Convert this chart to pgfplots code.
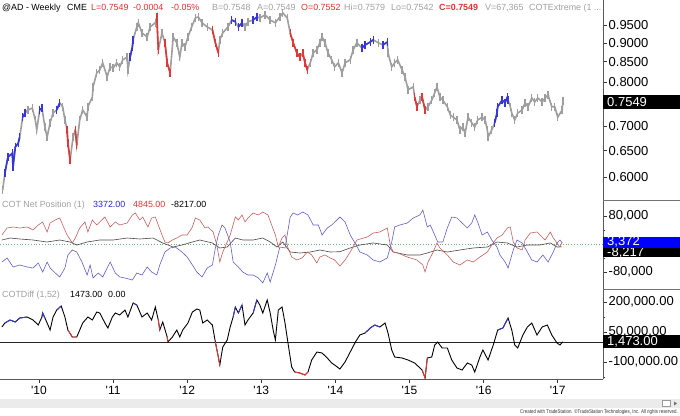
\documentclass[border=0pt]{standalone}
\usepackage{fontspec}
\setmainfont{Liberation Sans}
\usepackage{pgfplots}
\usepackage{pgfplotstable}
\pgfplotsset{compat=1.18}

\definecolor{bargray}{RGB}{158,158,158}
\definecolor{barblue}{RGB}{55,55,215}
\definecolor{barred}{RGB}{225,55,55}
\definecolor{cotblue}{RGB}{95,95,200}
\definecolor{cotred}{RGB}{200,95,95}
\definecolor{cotblack}{RGB}{70,70,70}
\definecolor{ttlgray}{RGB}{160,160,160}
\definecolor{ttlred}{RGB}{225,50,50}
\definecolor{ttlblue}{RGB}{40,40,215}
\definecolor{zgreen}{RGB}{110,180,110}

% weekly price (year, close-ish)
\pgfplotstableread{
x y
2009.51 0.577
2009.54 0.607
2009.58 0.637
2009.64 0.645
2009.65 0.618
2009.68 0.657
2009.72 0.665
2009.74 0.677
2009.78 0.719
2009.81 0.728
2009.85 0.735
2009.91 0.739
2009.95 0.713
2009.97 0.692
2010.01 0.735
2010.04 0.739
2010.08 0.698
2010.11 0.677
2010.15 0.707
2010.19 0.728
2010.24 0.735
2010.28 0.751
2010.32 0.742
2010.35 0.713
2010.38 0.692
2010.39 0.665
2010.42 0.632
2010.46 0.677
2010.49 0.692
2010.51 0.661
2010.55 0.713
2010.59 0.735
2010.65 0.719
2010.66 0.742
2010.72 0.764
2010.73 0.788
2010.78 0.822
2010.82 0.829
2010.86 0.847
2010.92 0.812
2010.96 0.837
2011.00 0.834
2011.05 0.847
2011.09 0.837
2011.13 0.855
2011.19 0.862
2011.20 0.829
2011.23 0.862
2011.26 0.889
2011.27 0.908
2011.32 0.944
2011.34 0.956
2011.39 0.927
2011.46 0.916
2011.50 0.944
2011.57 0.956
2011.59 0.973
2011.61 0.881
2011.66 0.927
2011.70 0.900
2011.73 0.847
2011.77 0.822
2011.80 0.889
2011.81 0.916
2011.86 0.900
2011.90 0.862
2011.93 0.900
2011.97 0.889
2012.01 0.916
2012.06 0.944
2012.11 0.970
2012.15 0.973
2012.20 0.956
2012.27 0.944
2012.34 0.936
2012.38 0.900
2012.42 0.873
2012.44 0.908
2012.48 0.927
2012.55 0.944
2012.60 0.964
2012.65 0.959
2012.69 0.944
2012.74 0.956
2012.78 0.944
2012.82 0.959
2012.89 0.964
2012.94 0.973
2012.98 0.970
2013.05 0.979
2013.12 0.964
2013.19 0.956
2013.25 0.973
2013.29 0.985
2013.35 0.970
2013.39 0.927
2013.43 0.900
2013.48 0.873
2013.52 0.862
2013.56 0.873
2013.59 0.847
2013.62 0.829
2013.66 0.847
2013.70 0.873
2013.75 0.881
2013.79 0.900
2013.82 0.916
2013.86 0.900
2013.90 0.873
2013.95 0.855
2013.99 0.837
2014.04 0.847
2014.09 0.822
2014.13 0.847
2014.20 0.855
2014.24 0.881
2014.29 0.900
2014.36 0.886
2014.40 0.894
2014.47 0.902
2014.51 0.908
2014.58 0.900
2014.64 0.894
2014.70 0.902
2014.71 0.873
2014.76 0.837
2014.80 0.847
2014.84 0.855
2014.90 0.829
2014.94 0.812
2014.98 0.781
2015.05 0.788
2015.07 0.764
2015.10 0.742
2015.14 0.757
2015.17 0.764
2015.21 0.735
2015.25 0.742
2015.30 0.757
2015.34 0.774
2015.37 0.788
2015.41 0.764
2015.45 0.757
2015.51 0.742
2015.55 0.724
2015.59 0.719
2015.64 0.713
2015.68 0.692
2015.72 0.698
2015.75 0.685
2015.79 0.719
2015.84 0.707
2015.88 0.698
2015.92 0.713
2015.98 0.719
2016.02 0.713
2016.05 0.692
2016.06 0.677
2016.11 0.692
2016.15 0.707
2016.18 0.728
2016.19 0.742
2016.25 0.757
2016.29 0.751
2016.32 0.764
2016.33 0.757
2016.36 0.742
2016.38 0.728
2016.42 0.713
2016.46 0.728
2016.52 0.735
2016.56 0.751
2016.60 0.742
2016.65 0.762
2016.69 0.753
2016.73 0.762
2016.79 0.753
2016.83 0.762
2016.87 0.769
2016.92 0.742
2016.96 0.742
2017.00 0.719
2017.06 0.735
2017.07 0.7549
}\price

% COT net positions, thousands of contracts
\pgfplotstableread{
x y
2009.50 25.7
2009.57 45.7
2009.65 48.6
2009.74 45.7
2009.84 48.6
2009.92 40.0
2009.99 54.3
2010.05 62.9
2010.11 34.3
2010.15 60.0
2010.22 68.6
2010.28 74.3
2010.32 54.3
2010.38 25.7
2010.45 2.9
2010.49 17.1
2010.55 45.7
2010.62 62.9
2010.66 34.3
2010.72 68.6
2010.78 54.3
2010.82 62.9
2010.89 77.1
2010.96 48.6
2011.03 62.9
2011.09 54.3
2011.19 60.0
2011.26 82.9
2011.30 88.6
2011.36 68.6
2011.40 77.1
2011.47 48.6
2011.52 74.3
2011.57 77.1
2011.61 54.3
2011.66 25.7
2011.70 5.7
2011.74 2.9
2011.80 11.4
2011.86 17.1
2011.93 25.7
2012.00 25.7
2012.07 48.6
2012.11 74.3
2012.17 68.6
2012.24 45.7
2012.28 48.6
2012.35 34.3
2012.40 -2.9
2012.44 -51.4
2012.48 -22.9
2012.54 5.7
2012.58 25.7
2012.65 77.1
2012.69 68.6
2012.74 82.9
2012.78 62.9
2012.82 74.3
2012.89 88.6
2012.96 82.9
2013.02 91.4
2013.09 82.9
2013.14 54.3
2013.19 25.7
2013.23 -8.6
2013.28 17.1
2013.32 25.7
2013.36 -11.4
2013.41 -37.1
2013.48 -45.7
2013.55 -40.0
2013.62 -22.9
2013.68 -31.4
2013.75 -54.3
2013.79 -37.1
2013.86 -31.4
2013.93 -40.0
2013.99 -45.7
2014.06 -62.9
2014.13 -45.7
2014.20 -22.9
2014.29 11.4
2014.43 20.0
2014.51 31.4
2014.60 34.3
2014.70 45.7
2014.74 -2.9
2014.78 -22.9
2014.84 -25.7
2014.97 -37.1
2015.10 -45.7
2015.18 -60.0
2015.21 -80.0
2015.25 -51.4
2015.32 -22.9
2015.37 2.9
2015.41 -11.4
2015.51 -31.4
2015.59 -51.4
2015.68 -60.0
2015.78 -45.7
2015.86 -51.4
2015.95 -37.1
2016.05 -22.9
2016.11 -2.9
2016.18 17.1
2016.25 25.7
2016.32 45.7
2016.36 48.6
2016.40 5.7
2016.45 -11.4
2016.52 -17.1
2016.56 11.4
2016.63 31.4
2016.72 34.3
2016.76 25.7
2016.83 11.4
2016.90 34.3
2016.94 17.1
2016.99 2.9
2017.03 -8.6
2017.06 4.8
}\cotred

\pgfplotstableread{
x y
2009.50 -51.4
2009.57 -40.0
2009.65 -65.7
2009.74 -60.0
2009.84 -65.7
2009.92 -68.6
2009.99 -54.3
2010.05 -80.0
2010.11 -51.4
2010.15 -68.6
2010.22 -82.9
2010.28 -94.3
2010.35 -68.6
2010.39 -31.4
2010.45 -17.1
2010.51 -22.9
2010.58 -51.4
2010.65 -88.6
2010.69 -60.0
2010.73 -97.1
2010.80 -82.9
2010.86 -94.3
2010.92 -68.6
2010.96 -51.4
2011.03 -82.9
2011.09 -94.3
2011.16 -97.1
2011.26 -102.9
2011.32 -82.9
2011.39 -88.6
2011.46 -65.7
2011.52 -80.0
2011.59 -88.6
2011.63 -60.0
2011.70 -22.9
2011.77 -11.4
2011.84 -8.6
2011.93 -22.9
2012.00 -37.1
2012.07 -60.0
2012.13 -80.0
2012.20 -94.3
2012.27 -68.6
2012.34 -60.0
2012.38 -11.4
2012.42 25.7
2012.47 54.3
2012.51 45.7
2012.58 5.7
2012.62 -51.4
2012.69 -65.7
2012.75 -80.0
2012.82 -88.6
2012.89 -88.6
2012.96 -97.1
2013.02 -111.4
2013.08 -82.9
2013.12 -108.6
2013.19 -60.0
2013.25 -8.6
2013.32 -11.4
2013.39 77.1
2013.43 88.6
2013.49 82.9
2013.56 91.4
2013.63 82.9
2013.70 54.3
2013.77 54.3
2013.82 25.7
2013.89 45.7
2013.95 54.3
2014.02 68.6
2014.06 77.1
2014.13 62.9
2014.20 25.7
2014.28 -2.9
2014.33 -22.9
2014.43 -31.4
2014.51 -45.7
2014.60 -51.4
2014.70 -40.0
2014.76 5.7
2014.80 48.6
2014.87 54.3
2014.97 60.0
2015.05 74.3
2015.14 82.9
2015.18 97.1
2015.24 48.6
2015.28 54.3
2015.34 25.7
2015.38 5.7
2015.45 5.7
2015.51 45.7
2015.57 77.1
2015.64 74.3
2015.71 60.0
2015.78 45.7
2015.84 60.0
2015.88 82.9
2015.92 62.9
2015.98 25.7
2016.05 34.3
2016.11 11.4
2016.18 -8.6
2016.22 -31.4
2016.29 -51.4
2016.33 -68.6
2016.40 -17.1
2016.45 11.4
2016.52 2.9
2016.59 -22.9
2016.65 -45.7
2016.72 -51.4
2016.80 -31.4
2016.87 -51.4
2016.94 -22.9
2016.99 2.9
2017.03 11.4
2017.06 3.4
}\cotblue

\pgfplotstableread{
x y
2009.50 11.4
2009.61 17.1
2009.74 14.3
2009.92 11.4
2010.11 5.7
2010.28 11.4
2010.42 5.7
2010.51 -2.9
2010.65 5.7
2010.82 11.4
2011.00 11.4
2011.19 17.1
2011.36 14.3
2011.54 17.1
2011.67 2.9
2011.81 -8.6
2011.93 -2.9
2012.07 5.7
2012.17 11.4
2012.34 2.9
2012.44 -11.4
2012.54 -8.6
2012.65 17.1
2012.75 11.4
2012.89 11.4
2013.02 17.1
2013.12 5.7
2013.21 -8.6
2013.29 5.7
2013.39 -22.9
2013.52 -25.7
2013.66 -22.9
2013.79 -17.1
2013.93 -22.9
2014.06 -22.0
2014.20 -11.4
2014.33 -2.9
2014.51 2.9
2014.70 -2.9
2014.78 -22.9
2014.97 -31.4
2015.14 -31.4
2015.24 -25.7
2015.37 -17.1
2015.51 -22.9
2015.68 -17.1
2015.86 -11.4
2016.05 -8.6
2016.18 5.7
2016.32 2.9
2016.45 -8.6
2016.59 -2.9
2016.76 -2.9
2016.90 2.9
2016.99 -8.6
2017.06 -8.2
}\cotblack

% COTDiff (1,52), thousands
\pgfplotstableread{
x y
2009.50 75
2009.54 95
2009.61 110
2009.68 100
2009.74 120
2009.84 125
2009.92 110
2009.99 85
2010.04 125
2010.05 145
2010.11 95
2010.15 60
2010.19 125
2010.24 160
2010.30 180
2010.35 125
2010.39 60
2010.45 25
2010.51 25
2010.55 60
2010.59 95
2010.66 125
2010.72 110
2010.78 150
2010.82 145
2010.89 95
2010.93 70
2010.99 125
2011.03 145
2011.09 135
2011.16 160
2011.20 125
2011.27 195
2011.32 185
2011.39 125
2011.46 145
2011.52 110
2011.57 175
2011.61 110
2011.63 60
2011.67 100
2011.73 25
2011.74 0
2011.80 25
2011.86 60
2011.90 25
2011.94 60
2012.01 95
2012.07 150
2012.13 165
2012.17 160
2012.21 95
2012.27 110
2012.34 85
2012.38 0
2012.42 -75
2012.44 -115
2012.48 -25
2012.54 10
2012.58 75
2012.62 125
2012.65 175
2012.69 145
2012.74 185
2012.78 85
2012.82 110
2012.89 145
2012.94 210
2012.98 185
2013.02 145
2013.08 210
2013.12 145
2013.16 60
2013.19 10
2013.23 160
2013.28 175
2013.32 95
2013.36 -5
2013.41 -125
2013.45 -150
2013.52 -155
2013.59 -165
2013.63 -150
2013.68 -90
2013.75 -50
2013.82 -55
2013.89 -80
2013.95 -105
2013.99 -115
2014.06 -135
2014.13 -100
2014.20 -50
2014.27 0
2014.33 35
2014.40 45
2014.47 70
2014.53 85
2014.60 75
2014.67 95
2014.71 45
2014.76 -40
2014.80 -75
2014.90 -80
2014.98 -90
2015.07 -105
2015.17 -140
2015.21 -180
2015.24 -80
2015.30 -75
2015.34 -15
2015.38 0
2015.44 -30
2015.51 -30
2015.57 -90
2015.64 -130
2015.71 -140
2015.78 -105
2015.84 -115
2015.88 -150
2015.95 -75
2015.99 -40
2016.06 -90
2016.13 -15
2016.19 60
2016.26 70
2016.33 120
2016.38 60
2016.42 -15
2016.46 -30
2016.53 35
2016.59 75
2016.65 95
2016.72 35
2016.79 75
2016.86 85
2016.92 35
2016.99 -5
2017.03 -15
2017.07 1.473
}\cotdiff

\pgfplotsset{
  panel/.style={
    scale only axis, width=603pt,
    xmin=2009.474, xmax=2017.611,
    axis y line*=right, tick align=outside,
    yticklabel style={font=\fontsize{13}{13}\selectfont, inner xsep=1.5pt},
    major tick length=4pt, minor tick length=2.5pt,
    every tick/.style={black!80, line width=0.5pt},
    axis line style={black!65, line width=0.6pt},
  },
  bars/.style={#1, line width=1.6pt, mark=|, mark size=4pt,
    mark options={line width=1.4pt}},
}

\newcommand\tfont{\fontsize{8.9}{10}\selectfont}

\begin{document}
\begin{tikzpicture}
\useasboundingbox (0pt,0pt) rectangle (680pt,-415pt);

% price panel
\begin{axis}[panel, at={(0pt,-200pt)}, anchor=south west, height=200pt,
  axis x line=none, ymode=log, ymin=0.560, ymax=1.024,
  ytick={0.6,0.65,0.7,0.75,0.8,0.85,0.9,0.95},
  yticklabels={0.6000,0.6500,0.7000,0.7500,0.8000,0.8500,0.9000,0.9500}]
\addplot[bars=bargray] table {\price};
\addplot[bars=barblue] coordinates {(2009.54,0.607) (2009.58,0.637) (2009.64,0.645) (2009.65,0.618) (2009.68,0.657) (2009.72,0.665) (2009.74,0.677)};
\addplot[bars=barblue] coordinates {(2009.78,0.719) (2009.81,0.728)};
\addplot[bars=barblue] coordinates {(2010.01,0.735) (2010.04,0.739)};
\addplot[bars=barblue] coordinates {(2010.24,0.735) (2010.28,0.751)};
\addplot[bars=barred] coordinates {(2010.38,0.692) (2010.39,0.665) (2010.42,0.632)};
\addplot[bars=barred] coordinates {(2010.49,0.692) (2010.51,0.661)};
\addplot[bars=barblue] coordinates {(2011.23,0.862) (2011.26,0.889) (2011.27,0.908)};
\addplot[bars=barred] coordinates {(2011.59,0.973) (2011.61,0.881)};
\addplot[bars=barred] coordinates {(2011.70,0.900) (2011.73,0.847) (2011.77,0.822)};
\addplot[bars=barred] coordinates {(2012.34,0.936) (2012.38,0.900) (2012.42,0.873)};
\addplot[bars=barblue] coordinates {(2012.60,0.964) (2012.65,0.959)};
\addplot[bars=barblue] coordinates {(2012.69,0.944) (2012.74,0.956)};
\addplot[bars=barblue] coordinates {(2012.89,0.964) (2012.94,0.973)};
\addplot[bars=barred] coordinates {(2013.39,0.927) (2013.43,0.900) (2013.48,0.873) (2013.52,0.862)};
\addplot[bars=barred] coordinates {(2013.56,0.873) (2013.59,0.847) (2013.62,0.829)};
\addplot[bars=barblue] coordinates {(2014.36,0.886) (2014.40,0.894) (2014.47,0.902) (2014.51,0.908)};
\addplot[bars=barblue] coordinates {(2014.64,0.894) (2014.70,0.902)};
\addplot[bars=barred] coordinates {(2015.07,0.764) (2015.10,0.742)};
\addplot[bars=barred] coordinates {(2015.17,0.764) (2015.21,0.735)};
\addplot[bars=barblue] coordinates {(2016.15,0.707) (2016.18,0.728) (2016.19,0.742) (2016.25,0.757) (2016.29,0.751) (2016.32,0.764) (2016.33,0.757)};
\end{axis}

% COT net position panel
\begin{axis}[panel, at={(0pt,-289pt)}, anchor=south west, height=89pt,
  axis x line=none, ymin=-128.6, ymax=125.7,
  ytick={-80,80}, yticklabels={{-80,000},{80,000}},
  minor ytick={-40,0,40}]
\addplot[zgreen, dotted, line width=0.8pt] coordinates {(2009.474,0) (2017.611,0)};
\addplot[cotblack, line width=0.6pt] table {\cotblack};
\addplot[cotred, line width=0.6pt] table {\cotred};
\addplot[cotblue, line width=0.6pt] table {\cotblue};
\end{axis}

% COTDiff panel
\begin{axis}[panel, at={(0pt,-379pt)}, anchor=south west, height=90pt,
  axis x line*=bottom, ymin=-185, ymax=265,
  ytick={-100,50,200}, yticklabels={{-100,000.00},{50,000.00},{200,000.00}},
  minor ytick={-175,-25,125},
  xtick={2010,2011,2012,2013,2014,2015,2016,2017},
  xticklabels={\textquotesingle10,\textquotesingle11,\textquotesingle12,\textquotesingle13,\textquotesingle14,\textquotesingle15,\textquotesingle16,\textquotesingle17},
  xticklabel style={font=\fontsize{12}{12}\selectfont}]
\addplot[black!85, line width=0.8pt] coordinates {(2009.474,0) (2017.611,0)};
\addplot[black, line width=0.9pt] table {\cotdiff};
\addplot[barblue, line width=0.9pt] coordinates {(2009.54,95) (2009.61,110) (2009.68,100) (2009.74,120) (2009.84,125)};
\addplot[barblue, line width=0.9pt] coordinates {(2010.04,125) (2010.05,145) (2010.08,120)};
\addplot[barblue, line width=0.9pt] coordinates {(2010.24,160) (2010.30,180)};
\addplot[barblue, line width=0.9pt] coordinates {(2011.27,195) (2011.32,185)};
\addplot[barblue, line width=0.9pt] coordinates {(2012.62,125) (2012.65,175)};
\addplot[barblue, line width=0.9pt] coordinates {(2012.69,145) (2012.74,185)};
\addplot[barblue, line width=0.9pt] coordinates {(2012.89,145) (2012.94,210)};
\addplot[barblue, line width=0.9pt] coordinates {(2014.40,45) (2014.47,70) (2014.53,85) (2014.60,75)};
\addplot[barblue, line width=0.9pt] coordinates {(2016.19,60) (2016.26,70) (2016.33,120)};
\addplot[barred, line width=0.9pt] coordinates {(2010.39,60) (2010.45,25) (2010.51,25)};
\addplot[barred, line width=0.9pt] coordinates {(2011.61,110) (2011.63,60)};
\addplot[barred, line width=0.9pt] coordinates {(2011.73,25) (2011.74,0)};
\addplot[barred, line width=0.9pt] coordinates {(2012.38,0) (2012.42,-75) (2012.44,-115)};
\addplot[barred, line width=0.9pt] coordinates {(2013.45,-150) (2013.52,-155) (2013.59,-165) (2013.63,-150)};
\addplot[barred, line width=0.9pt] coordinates {(2015.17,-140) (2015.21,-180) (2015.24,-80)};
\end{axis}

% separators in the scale area
\draw[black!55, line width=0.6pt] (603pt,-200pt) -- (680pt,-200pt);
\draw[black!55, line width=0.6pt] (603pt,-289pt) -- (680pt,-289pt);

% last value boxes
\fill[black] (603pt,-95pt) rectangle (680pt,-109pt);
\node[anchor=west, text=white, inner sep=0pt, font=\fontsize{13}{13}\selectfont] at (607pt,-102pt) {0.7549};
\fill[black] (603pt,-246pt) rectangle (680pt,-257pt);
\node[anchor=west, text=white, inner sep=0pt, font=\fontsize{13}{13}\selectfont] at (607pt,-253pt) {-8,217};
\fill[blue] (603pt,-236.5pt) rectangle (680pt,-248pt);
\node[anchor=west, text=white, inner sep=0pt, font=\fontsize{13}{13}\selectfont] at (607pt,-242pt) {3,372};
\fill[black] (603pt,-335pt) rectangle (680pt,-348pt);
\node[anchor=west, text=white, inner sep=0pt, font=\fontsize{13}{13}\selectfont] at (607pt,-341.5pt) {1,473.00};

% header of the price panel
\begin{scope}[every node/.style={anchor=base west, inner sep=0pt, font=\tfont}]
\node[text=black] at (2pt,-10.5pt) {@AD - Weekly};
\node[text=black] at (67pt,-10.5pt) {CME};
\node[text=ttlred] at (91pt,-10.5pt) {L=0.7549};
\node[text=ttlred] at (133pt,-10.5pt) {-0.0004};
\node[text=ttlred] at (171pt,-10.5pt) {-0.05\%};
\node[text=ttlgray] at (212pt,-10.5pt) {B=0.7548};
\node[text=ttlgray] at (257pt,-10.5pt) {A=0.7549};
\node[text=ttlred] at (301pt,-10.5pt) {O=0.7552};
\node[text=ttlgray] at (344pt,-10.5pt) {Hi=0.7579};
\node[text=ttlgray] at (391pt,-10.5pt) {Lo=0.7542};
\node[text=ttlred] at (439pt,-10.5pt) {\bfseries C=0.7549};
\node[text=ttlgray] at (485pt,-10.5pt) {V=67,365};
\node[text=ttlgray] at (529pt,-10.5pt) {COTExtreme (1 ...};
% COT header
\node[text=ttlgray] at (2pt,-207.5pt) {COT Net Position (1)};
\node[text=ttlblue] at (93pt,-207.5pt) {3372.00};
\node[text=ttlred] at (133pt,-207.5pt) {4845.00};
\node[text=black] at (171pt,-207.5pt) {-8217.00};
% COTDiff header
\node[text=ttlgray] at (2pt,-297.5pt) {COTDiff (1,52)};
\node[text=black] at (70pt,-297.5pt) {1473.00};
\node[text=black] at (108pt,-297.5pt) {0.00};
\end{scope}

% scroll bar and footer
\fill[black!8] (0pt,-399pt) rectangle (680pt,-408pt);
\draw[black!40, fill=white] (662pt,-400.5pt) rectangle (670pt,-406.5pt);
\fill[black!55] (674pt,-401.5pt) -- (677pt,-403.5pt) -- (674pt,-405.5pt) -- cycle;
\node[anchor=base east, inner sep=0pt, text=black!80] at (678pt,-413.5pt)
  {\scalebox{0.82}[1]{\fontsize{5.4}{6}\selectfont Created with TradeStation. \textcopyright TradeStation Technologies, Inc. All rights reserved.}};
\end{tikzpicture}
\end{document}
